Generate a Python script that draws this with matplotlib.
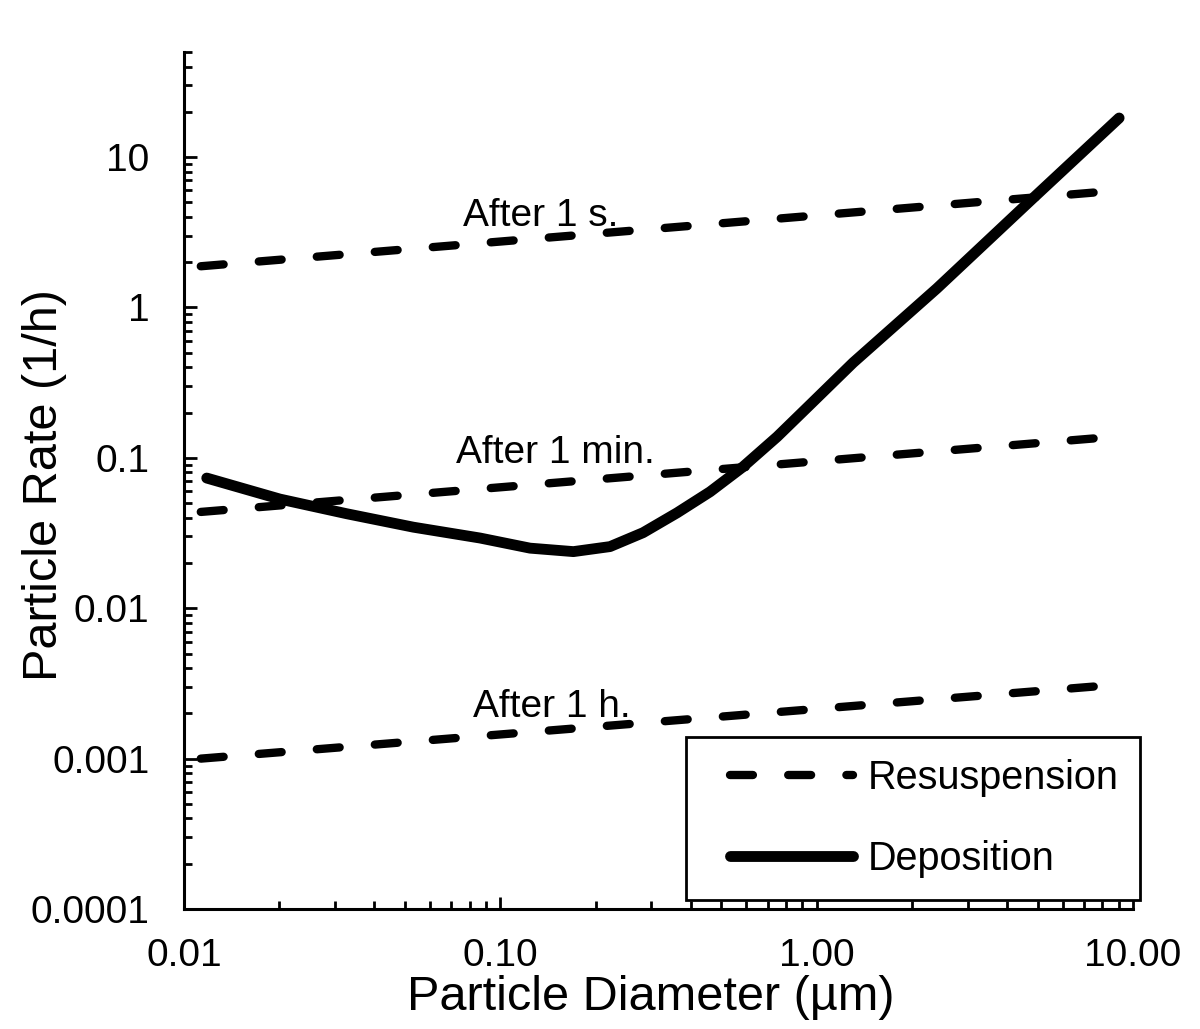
import matplotlib
matplotlib.use("Agg")
import matplotlib.pyplot as plt
from matplotlib.ticker import FixedLocator, LogLocator, NullFormatter, FixedFormatter
from matplotlib.legend_handler import HandlerLine2D

plt.rcParams['font.family'] = ['Liberation Sans', 'DejaVu Sans']
plt.rcParams['lines.scale_dashes'] = False

# ---- data ----
dep_diam = [0.0118, 0.0201, 0.0327, 0.0531, 0.0863, 0.1241, 0.1702, 0.2222, 0.2826,
            0.362, 0.4603, 0.5853, 0.7499, 0.953, 1.3036, 2.40, 4.83, 9.04]
dep_rate = [0.0734, 0.0532, 0.0425, 0.0346, 0.0293, 0.0251, 0.0238, 0.0257, 0.0318,
            0.0431, 0.0595, 0.0873, 0.1381, 0.2256, 0.4292, 1.34, 5.33, 18.2]

res_diam = [0.0113, 9.04]
res_1s = [1.88, 6.0]
res_1min = [0.0437, 0.139]
res_1h = [0.00100, 0.00311]

x_ticks = [0.01, 0.1, 1.0, 10.0]
x_ticklabels = ["0.01", "0.10", "1.00", "10.00"]
y_ticks = [0.0001, 0.001, 0.01, 0.1, 1, 10]
y_ticklabels = ["0.0001", "0.001", "0.01", "0.1", "1", "10"]

annotations = ["After 1 s.", "After 1 min.", "After 1 h."]
ann_pos = [(0.0762, 3.5), (0.0724, 0.0927), (0.082, 0.00189)]

# ---- figure ----
fig = plt.figure(figsize=(12, 10.29), dpi=100)
ax = fig.add_axes([184/1200, 1-909/1029, (1133-184)/1200, (909-52)/1029])
ax.set_xscale('log')
ax.set_yscale('log')
ax.set_xlim(0.01, 10)
ax.set_ylim(0.0001, 50)

dash = (0, (16.5, 25.4))
res_kw = dict(color='black', lw=6.0, linestyle=dash, dash_capstyle='round')
l_res, = ax.plot(res_diam, res_1s, **res_kw)
ax.plot(res_diam, res_1min, **res_kw)
ax.plot(res_diam, res_1h, **res_kw)
l_dep, = ax.plot(dep_diam, dep_rate, color='black', lw=7.8, solid_capstyle='round',
                 solid_joinstyle='round')

for txt, (xx, yy) in zip(annotations, ann_pos):
    ax.text(xx, yy, txt, fontsize=28, ha='left', va='baseline')

# spines
for s in ['top', 'right']:
    ax.spines[s].set_visible(False)
for s in ['left', 'bottom']:
    ax.spines[s].set_linewidth(2.2)

ax.xaxis.set_major_locator(FixedLocator(x_ticks))
ax.xaxis.set_major_formatter(FixedFormatter(x_ticklabels))
ax.xaxis.set_minor_locator(LogLocator(base=10, subs=range(2, 10), numticks=20))
ax.xaxis.set_minor_formatter(NullFormatter())
ax.yaxis.set_major_locator(FixedLocator(y_ticks))
ax.yaxis.set_major_formatter(FixedFormatter(y_ticklabels))
ax.yaxis.set_minor_locator(LogLocator(base=10, subs=range(2, 10), numticks=20))
ax.yaxis.set_minor_formatter(NullFormatter())

ax.tick_params(which='major', direction='in', length=9, width=2.0, labelsize=28)
ax.tick_params(which='minor', direction='in', length=6, width=2.0)
ax.tick_params(axis='y', which='major', pad=25)
ax.tick_params(axis='x', which='major', pad=21)

fig.text(651/1200, 1-1010/1029, "Particle Diameter (µm)", fontsize=35,
         ha='center', va='baseline')
fig.text(57/1200, 1-485/1029, "Particle Rate (1/h)", fontsize=35, rotation=90,
         ha='center', va='baseline', rotation_mode='anchor')

leg = ax.legend([l_res, l_dep], ["Resuspension", "Deposition"],
                loc='upper left', bbox_to_anchor=(686/1200, 1-737/1029),
                bbox_transform=fig.transFigure, borderaxespad=0,
                fontsize=28.5, frameon=True, fancybox=False, framealpha=1,
                edgecolor='black', borderpad=0.55, labelspacing=1.1,
                handlelength=3.68, handletextpad=0.35,
                handler_map={l_res: HandlerLine2D(xpad=0.55),
                             l_dep: HandlerLine2D(xpad=0.55)})
leg.get_frame().set_linewidth(2.0)

fig.savefig("out.png", dpi=100)
